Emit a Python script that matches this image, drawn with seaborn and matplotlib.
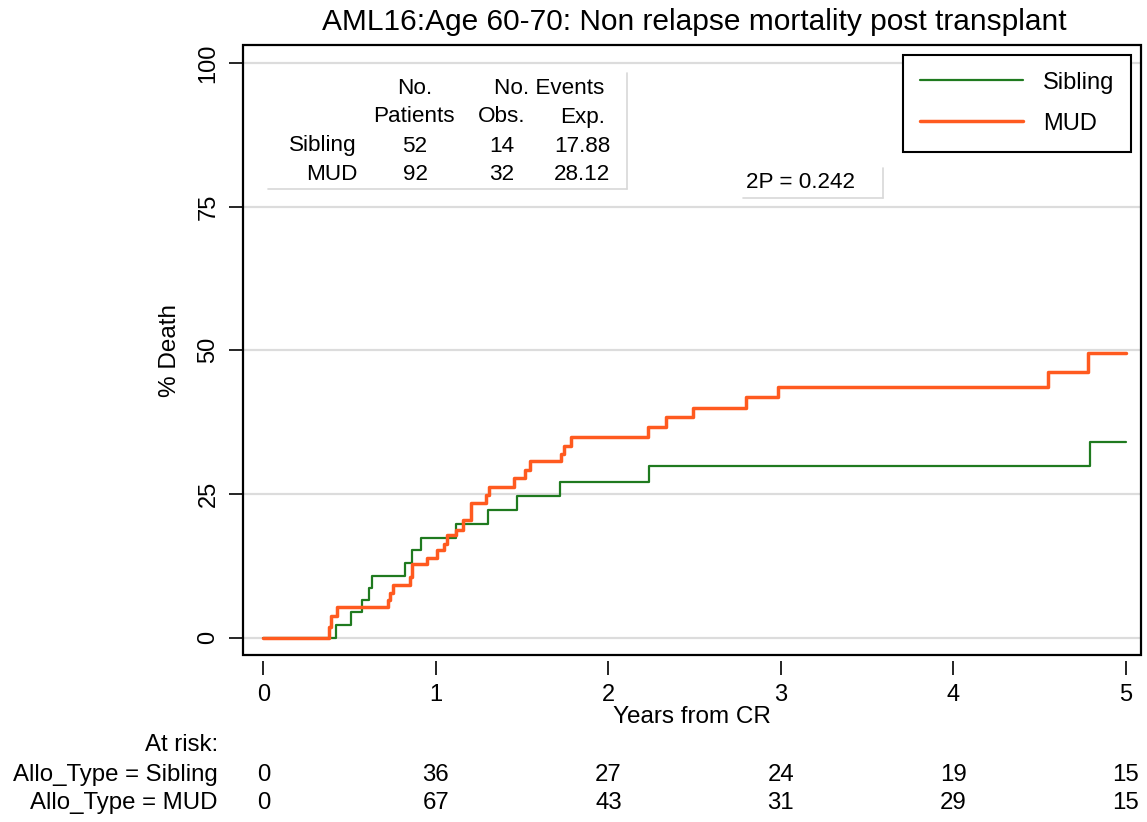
import numpy as np
import pandas as pd
import matplotlib
matplotlib.use("Agg")
import matplotlib.pyplot as plt
import seaborn as sns
from matplotlib.transforms import blended_transform_factory
from matplotlib.lines import Line2D
from matplotlib.patches import Rectangle

# ---------------- data ----------------
title = "AML16:Age 60-70: Non relapse mortality post transplant"
groups = ["Sibling", "MUD"]

sib_time = [0, 0.419, 0.508, 0.572, 0.610, 0.630, 0.824, 0.864, 0.913, 1.116,
            1.300, 1.471, 1.721, 2.236, 4.790, 5.0]
sib_pct = [0, 2.2, 4.4, 6.5, 8.7, 10.8, 13.0, 15.2, 17.4, 19.8,
           22.2, 24.7, 27.1, 29.8, 34.1, 34.1]

mud_time = [0, 0.380, 0.390, 0.428, 0.725, 0.735, 0.754, 0.851, 0.860, 0.951,
            1.008, 1.048, 1.067, 1.116, 1.155, 1.203, 1.288, 1.310, 1.455, 1.515,
            1.543, 1.723, 1.742, 1.785, 2.231, 2.337, 2.488, 2.798, 2.983, 4.550,
            4.783, 5.0]
mud_pct = [0, 1.9, 3.7, 5.3, 6.6, 7.7, 9.1, 10.5, 12.8, 13.9,
           15.2, 16.3, 17.8, 18.8, 20.4, 23.5, 24.9, 26.3, 27.8, 29.2,
           30.7, 32.0, 33.4, 35.0, 36.7, 38.4, 40.0, 41.8, 43.6, 46.3,
           49.5, 49.5]

x_ticks = [0, 1, 2, 3, 4, 5]
y_ticks = [0, 25, 50, 75, 100]
risk_labels = ["Allo_Type = Sibling", "Allo_Type = MUD"]
risk_sib = [0, 36, 27, 24, 19, 15]
risk_mud = [0, 67, 43, 31, 29, 15]

tab_patients = ["52", "92"]
tab_obs = ["14", "32"]
tab_exp = ["17.88", "28.12"]
p_text = "2P = 0.242"

colors = {"Sibling": "#1f7a1f", "MUD": "#ff5a1f"}

# ---------------- style ----------------
sns.set_style("white")
plt.rcParams['font.family'] = ['Liberation Sans', 'DejaVu Sans']
plt.rcParams['text.color'] = 'black'
plt.rcParams['axes.labelcolor'] = 'black'
plt.rcParams['xtick.color'] = 'black'
plt.rcParams['ytick.color'] = 'black'

W, H = 1147, 822
fig = plt.figure(figsize=(W / 100, H / 100), dpi=100)
fx = lambda px: px / W
fy = lambda py: 1 - py / H

ax = fig.add_axes([fx(243), fy(655), 898 / W, 610 / H])

df = pd.concat([
    pd.DataFrame({"t": sib_time, "pct": sib_pct, "group": "Sibling"}),
    pd.DataFrame({"t": mud_time, "pct": mud_pct, "group": "MUD"}),
], ignore_index=True)

widths = {"Sibling": 1.6, "MUD": 2.5}
for g in groups:
    sns.lineplot(data=df[df["group"] == g], x="t", y="pct", color=colors[g],
                 linewidth=widths[g], drawstyle="steps-post", estimator=None,
                 label=g, ax=ax, zorder=3)

ax.set_xlim(-0.118, 5.088)
ax.set_ylim(-3.0, 103.1)
ax.set_xticks(x_ticks)
ax.set_yticks(y_ticks)
ax.set_xticklabels([str(v) for v in x_ticks])
ax.set_yticklabels([str(v) for v in y_ticks], rotation=90, va="center")
ax.yaxis.grid(True, color="#dcdcdc", linewidth=1.6, zorder=0)
ax.xaxis.grid(False)
ax.set_axisbelow(True)

for s in ax.spines.values():
    s.set_visible(False)
ax.spines["bottom"].set_position(("outward", 4))
ax.add_patch(Rectangle((0, 0), 1, 1, transform=ax.transAxes, fill=False,
                       edgecolor="black", linewidth=1.6, clip_on=False, zorder=6))

ax.tick_params(axis="x", direction="out", length=10, width=1.2, colors="black",
               labelsize=17, pad=7, bottom=True)
ax.tick_params(axis="y", direction="out", length=10, width=1.2, colors="black",
               labelsize=17, pad=7, left=True)

ax.set_xlabel("Years from CR", fontsize=17.5, labelpad=0)
ax.set_ylabel("% Death", fontsize=17.5, labelpad=12)

leg = ax.legend(loc="upper right", bbox_to_anchor=(0.989, 0.984), frameon=True,
                fancybox=False, edgecolor="black", framealpha=1, fontsize=17,
                handlelength=4.35, handletextpad=0.85, borderpad=0.72,
                labelspacing=0.8, borderaxespad=0)
leg.get_frame().set_linewidth(1.5)

fig.text(fx(694), fy(22), title, ha="center", va="center", fontsize=21.5)

# ---------------- summary table ----------------
ts = 16.2
fig.text(fx(415), fy(88), "No.", ha="center", va="center", fontsize=ts)
fig.text(fx(549), fy(88), "No. Events", ha="center", va="center", fontsize=ts)
fig.text(fx(414), fy(117), "Patients", ha="center", va="center", fontsize=ts)
fig.text(fx(502), fy(117), "Obs.", ha="center", va="center", fontsize=ts)
fig.text(fx(583), fy(117), "Exp.", ha="center", va="center", fontsize=ts)
for i, g in enumerate(groups):
    yy = fy(146 + 29 * i)
    fig.text(fx(357), yy, g, ha="right", va="center", fontsize=ts)
    fig.text(fx(415), yy, tab_patients[i], ha="center", va="center", fontsize=ts)
    fig.text(fx(502), yy, tab_obs[i], ha="center", va="center", fontsize=ts)
    fig.text(fx(582), yy, tab_exp[i], ha="center", va="center", fontsize=ts)
fig.add_artist(Line2D([fx(627), fx(627)], [fy(73), fy(189)], color="#d8d8d8", lw=1.2))
fig.add_artist(Line2D([fx(268), fx(627)], [fy(189), fy(189)], color="#d8d8d8", lw=1.2))

fig.text(fx(746), fy(183), p_text, ha="left", va="center", fontsize=ts)
fig.add_artist(Line2D([fx(883), fx(883)], [fy(168), fy(198)], color="#d8d8d8", lw=1.2))
fig.add_artist(Line2D([fx(743), fx(883)], [fy(198), fy(198)], color="#d8d8d8", lw=1.2))

# ---------------- at risk ----------------
rs = 17.3
bt = blended_transform_factory(ax.transData, fig.transFigure)
fig.text(fx(218), fy(745), "At risk:", ha="right", va="center", fontsize=rs)
for i, (lab, vals) in enumerate(zip(risk_labels, [risk_sib, risk_mud])):
    yy = fy(775 + 28 * i)
    fig.text(fx(218), yy, lab, ha="right", va="center", fontsize=rs)
    for xv, v in zip(x_ticks, vals):
        ax.text(xv, yy, str(v), transform=bt, ha="center", va="center",
                fontsize=rs, clip_on=False)

fig.savefig("out.png", dpi=100)
